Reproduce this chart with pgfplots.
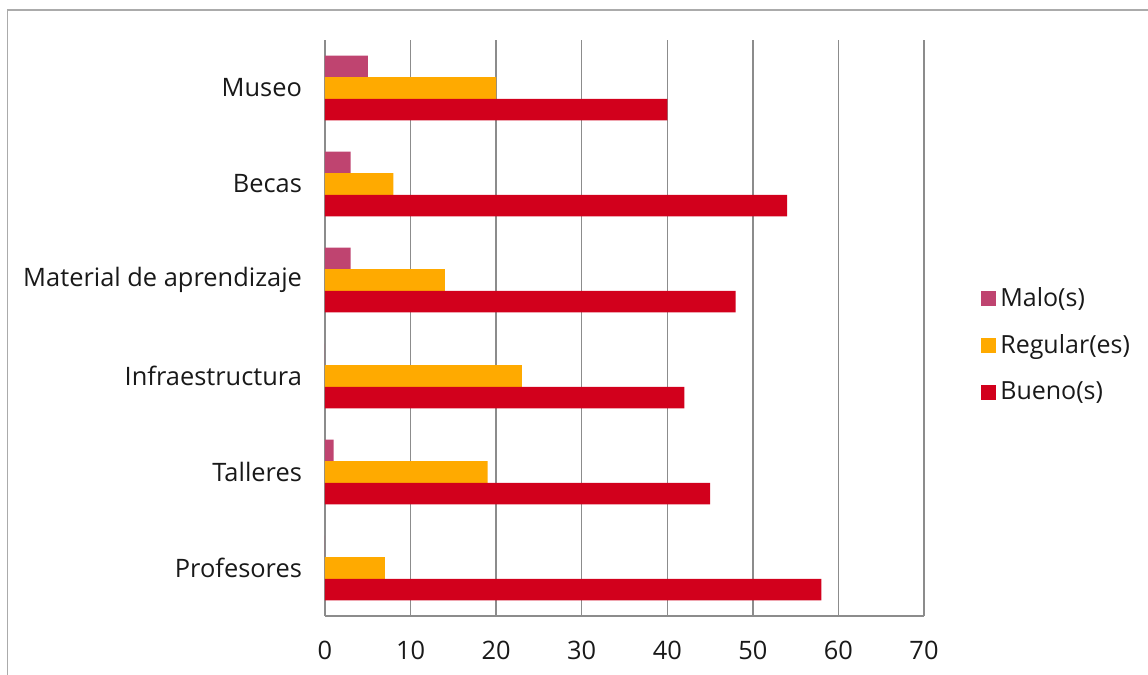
\documentclass[border=0pt]{standalone}
\usepackage{fontspec}
\setmainfont{Open Sans}
\usepackage{pgfplots}
\pgfplotsset{compat=1.18}
\definecolor{malo}{HTML}{BF4470}
\definecolor{regular}{HTML}{FFAA00}
\definecolor{bueno}{HTML}{D2001C}
\definecolor{gridc}{HTML}{8C8C8C}
\definecolor{framec}{HTML}{ABABAB}
\begin{document}
\begin{tikzpicture}
\useasboundingbox (0,0) rectangle (574pt,337.5pt);
\draw[framec, line width=0.6pt] (3.75pt,0) -- (3.75pt,332.5pt) -- (574pt,332.5pt);
\begin{axis}[
  at={(162.5pt,29.5pt)}, anchor=south west,
  scale only axis, width=299.5pt, height=288pt,
  xbar, bar width=10.8pt,
  xmin=0, xmax=70, ymin=-0.5, ymax=5.5,
  xtick={0,10,...,70},
  ytick={0,1,2,3,4,5},
  yticklabels={Profesores,Talleres,Infraestructura,Material de aprendizaje,Becas,Museo},
  axis x line*=bottom, axis y line*=left,
  axis line style={gridc, line width=0.75pt, -},
  xmajorgrids, major grid style={gridc, line width=0.75pt},
  major tick length=0pt,
  tick style={draw=none},
  /pgf/number format/assume math mode=true,
  ticklabel style={font=\fontsize{12.7}{15}\selectfont, text=black!90},
  xticklabel style={yshift=-9pt},
  yticklabel style={xshift=-8pt},
  legend style={draw=none, fill=none, at={(1.085,0.47)}, anchor=west,
    font=\fontsize{12.5}{15}\selectfont, row sep=8.5pt, text=black!90},
  legend cell align=left,
  legend image code/.code={\fill[#1] (0pt,-3.75pt) rectangle (7.5pt,3.75pt);},
]
\addplot[fill=malo, draw=none, bar shift=10.8pt] coordinates {(0,0) (1,1) (0,2) (3,3) (3,4) (5,5)};
\addlegendentry{Malo(s)}
\addplot[fill=regular, draw=none, bar shift=0pt] coordinates {(7,0) (19,1) (23,2) (14,3) (8,4) (20,5)};
\addlegendentry{Regular(es)}
\addplot[fill=bueno, draw=none, bar shift=-10.8pt] coordinates {(58,0) (45,1) (42,2) (48,3) (54,4) (40,5)};
\addlegendentry{Bueno(s)}
\end{axis}
\end{tikzpicture}
\end{document}
